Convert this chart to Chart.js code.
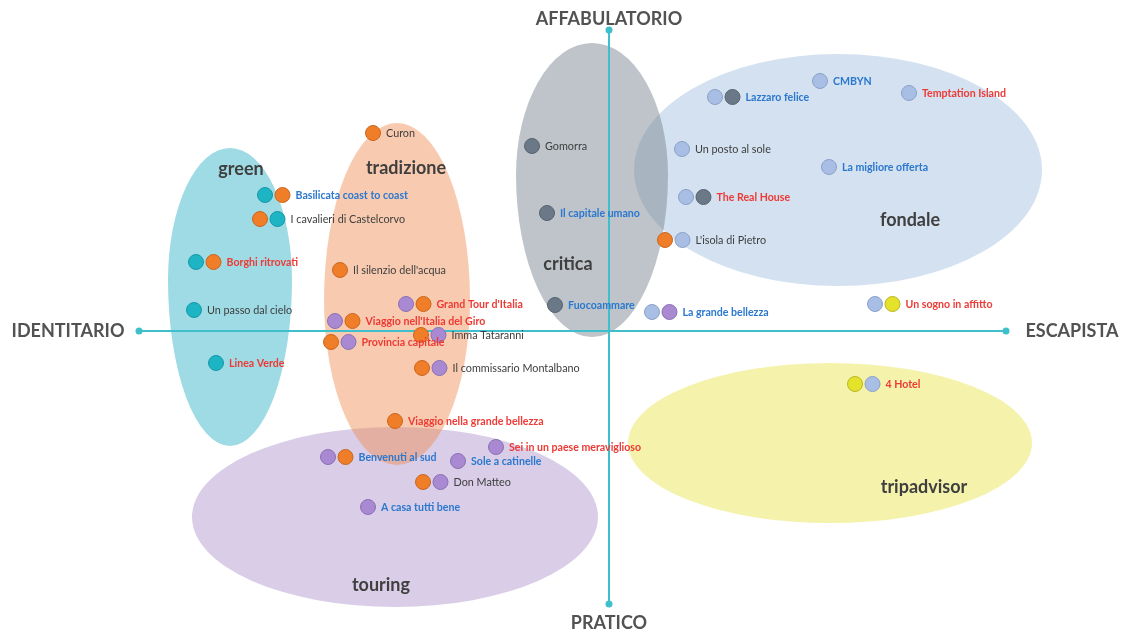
<!DOCTYPE html>
<html>
<head>
<meta charset="utf-8">
<script src="https://cdn.jsdelivr.net/npm/chart.js@4/dist/chart.umd.min.js"></script>
<style>
  html, body { margin: 0; padding: 0; background: #ffffff; }
  #wrap { width: 1125px; height: 633px; position: relative; }
</style>
</head>
<body>
<div id="wrap"><canvas id="mappa"></canvas></div>
<script>
// --- data: positions are in map units, origin where the two axes cross ---
const titles = [
  'Curon', 'Basilicata coast to coast', 'I cavalieri di Castelcorvo', 'Borghi ritrovati',
  'Un passo dal cielo', 'Linea Verde', "Il silenzio dell'acqua", "Grand Tour d'Italia",
  "Viaggio nell'Italia del Giro", 'Imma Tataranni', 'Provincia capitale', 'Il commissario Montalbano',
  'Viaggio nella grande bellezza', 'Sei in un paese meraviglioso', 'Benvenuti al sud', 'Sole a catinelle',
  'Don Matteo', 'A casa tutti bene', 'Gomorra', 'Il capitale umano',
  'Fuocoammare', 'Un posto al sole', 'The Real House', "L'isola di Pietro",
  'La grande bellezza', 'Lazzaro felice', 'CMBYN', 'Temptation Island',
  'La migliore offerta', 'Un sogno in affitto', '4 Hotel'
];
const titleX = [
  -23.6, -34.4, -34.9, -41.3, -41.5, -39.3, -26.9, -20.3,
  -27.4, -18.8, -27.8, -18.7, -21.4, -11.3, -28.1, -15.1,
  -18.6, -24.1, -7.7, -6.2, -5.4, 7.3, 7.7, 5.6,
  4.3, 10.6, 21.1, 30.0, 22.0, 26.6, 24.6
];
const titleY = [
  19.8, 13.6, 11.2, 6.9, 2.1, -3.2, 6.1, 2.7,
  1.0, -0.4, -1.1, -3.7, -9.0, -11.6, -12.6, -13.0,
  -15.1, -17.6, 18.5, 11.8, 2.6, 18.2, 13.4, 9.1,
  1.9, 23.4, 25.0, 23.8, 16.4, 2.7, -5.3
];
// g = green, t = tradizione, p = touring, c = critica, f = fondale, y = tripadvisor
const titleDots = [
  't', 'gt', 'tg', 'gt', 'g', 'g', 't', 'pt',
  'pt', 'tp', 'tp', 'tp', 't', 'p', 'pt', 'p',
  'tp', 'p', 'c', 'c', 'c', 'f', 'fc', 'tf',
  'fp', 'fc', 'f', 'f', 'f', 'fy', 'yf'
];
// d = dark, b = blue, r = red
const titleInk = [
  'd', 'b', 'd', 'r', 'd', 'r', 'd', 'r',
  'r', 'd', 'r', 'd', 'r', 'r', 'b', 'b',
  'd', 'b', 'd', 'b', 'b', 'd', 'r', 'd',
  'b', 'b', 'b', 'r', 'b', 'r', 'r'
];

const groupKeys   = ['p', 'y', 'f', 'g', 't', 'c'];
const groupNames  = ['touring', 'tripadvisor', 'fondale', 'green', 'tradizione', 'critica'];
const groupCx     = [-21.4, 22.1, 22.9, -37.9, -21.2, -1.7];
const groupCy     = [-18.6, -11.2, 16.1, 5.1, 3.1, 15.6];
const groupRx     = [20.3, 20.2, 20.4, 6.2, 7.3, 7.6];
const groupRyTop  = [9.0, 8.0, 11.6, 13.2, 17.7, 13.2];
const groupRyBot  = [9.0, 8.0, 11.6, 16.6, 16.5, 16.2];
const groupNameX  = [-22.8, 31.5, 30.1, -36.8, -20.3, -4.1];
const groupNameY  = [-25.4, -15.6, 11.1, 16.2, 16.3, 6.7];

const poleNames = ['AFFABULATORIO', 'PRATICO', 'IDENTITARIO', 'ESCAPISTA'];
const poleX     = [0, 0, -54.1, 46.3];
const poleY     = [31.2, -29.2, 0, 0];
const axisEnds  = { left: -47.0, right: 39.7, top: 30.1, bottom: -27.3 };

// --- styling ---
const DOT_GAP = 1.75;
const LABEL_GAP = 1.3;
const dotFill = { g: '#1db4c4', t: '#f07e28', p: '#a98ad2', c: '#6a7888', f: '#a8bee4', y: '#e4e22a' };
const dotEdge = { g: '#1797a5', t: '#c8661e', p: '#8a6fb3', c: '#56626f', f: '#8aa0c8', y: '#b8b620' };
const ellipseFill = {
  p: 'rgba(160, 130, 195, 0.40)',
  y: 'rgba(235, 230, 90, 0.50)',
  f: 'rgba(170, 195, 225, 0.50)',
  g: 'rgba(40, 175, 195, 0.45)',
  t: 'rgba(240, 140, 80, 0.45)',
  c: 'rgba(125, 138, 148, 0.50)'
};
const inkColor = { d: '#3d3d3d', b: '#2b78cf', r: '#ee3a35' };
const axisColor = '#3fbfcc';

// build one scatter dataset per dot colour
function buildDotDatasets() {
  const sets = {};
  Object.keys(dotFill).forEach(k => { sets[k] = []; });
  titles.forEach((t, i) => {
    titleDots[i].split('').forEach((k, j) => {
      sets[k].push({ x: titleX[i] + j * DOT_GAP, y: titleY[i] });
    });
  });
  return Object.keys(sets).map(k => ({
    type: 'scatter',
    label: k,
    data: sets[k],
    pointRadius: 7.5,
    pointBackgroundColor: dotFill[k],
    pointBorderColor: dotEdge[k],
    pointBorderWidth: 1,
    order: 0
  }));
}

const ellipsePlugin = {
  id: 'ellipses',
  beforeDatasetsDraw(chart) {
    const { ctx, scales: { x, y } } = chart;
    ctx.save();
    groupKeys.forEach((k, i) => {
      const cx = x.getPixelForValue(groupCx[i]);
      const cy = y.getPixelForValue(groupCy[i]);
      const rx = Math.abs(x.getPixelForValue(groupCx[i] + groupRx[i]) - cx);
      const ryT = Math.abs(y.getPixelForValue(groupCy[i] + groupRyTop[i]) - cy);
      const ryB = Math.abs(y.getPixelForValue(groupCy[i] - groupRyBot[i]) - cy);
      ctx.beginPath();
      ctx.ellipse(cx, cy, rx, ryT, 0, Math.PI, 2 * Math.PI);
      ctx.ellipse(cx, cy, rx, ryB, 0, 0, Math.PI);
      ctx.closePath();
      ctx.fillStyle = ellipseFill[k];
      ctx.fill();
    });
    ctx.fillStyle = '#3f3f3f';
    ctx.font = 'bold 18px Lato, sans-serif';
    ctx.textAlign = 'center';
    ctx.textBaseline = 'middle';
    groupNames.forEach((n, i) => {
      ctx.fillText(n, x.getPixelForValue(groupNameX[i]), y.getPixelForValue(groupNameY[i]));
    });
    ctx.restore();
  },
  afterDatasetsDraw(chart) {
    const { ctx, scales: { x, y } } = chart;
    ctx.save();
    ctx.textAlign = 'left';
    ctx.textBaseline = 'middle';
    titles.forEach((t, i) => {
      const lastX = titleX[i] + (titleDots[i].length - 1) * DOT_GAP + LABEL_GAP;
      const ink = titleInk[i];
      ctx.font = ink === 'd' ? '10.8px Lato, sans-serif' : 'bold 10.6px Lato, sans-serif';
      ctx.fillStyle = inkColor[ink];
      ctx.fillText(t, x.getPixelForValue(lastX), y.getPixelForValue(titleY[i]) + 1);
    });
    // pole names
    ctx.font = 'bold 18px Lato, sans-serif';
    ctx.fillStyle = '#525252';
    ctx.textAlign = 'center';
    poleNames.forEach((n, i) => {
      ctx.fillText(n, x.getPixelForValue(poleX[i]), y.getPixelForValue(poleY[i]));
    });
    ctx.restore();
  }
};

const axisLine = (pts) => ({
  type: 'line',
  data: pts,
  borderColor: axisColor,
  borderWidth: 2,
  pointRadius: 3.5,
  pointBackgroundColor: axisColor,
  pointBorderWidth: 0,
  order: 5
});

new Chart(document.getElementById('mappa'), {
  type: 'scatter',
  data: {
    datasets: [
      axisLine([{ x: axisEnds.left, y: 0 }, { x: axisEnds.right, y: 0 }]),
      axisLine([{ x: 0, y: axisEnds.top }, { x: 0, y: axisEnds.bottom }]),
      ...buildDotDatasets()
    ]
  },
  options: {
    responsive: true,
    maintainAspectRatio: false,
    animation: false,
    layout: { padding: 0, autoPadding: false },
    plugins: { legend: { display: false }, tooltip: { enabled: false } },
    scales: {
      x: { type: 'linear', display: false, min: -60.9, max: 51.6 },
      y: { type: 'linear', display: false, min: -30.2, max: 33.1 }
    }
  },
  plugins: [ellipsePlugin]
});
</script>
</body>
</html>
